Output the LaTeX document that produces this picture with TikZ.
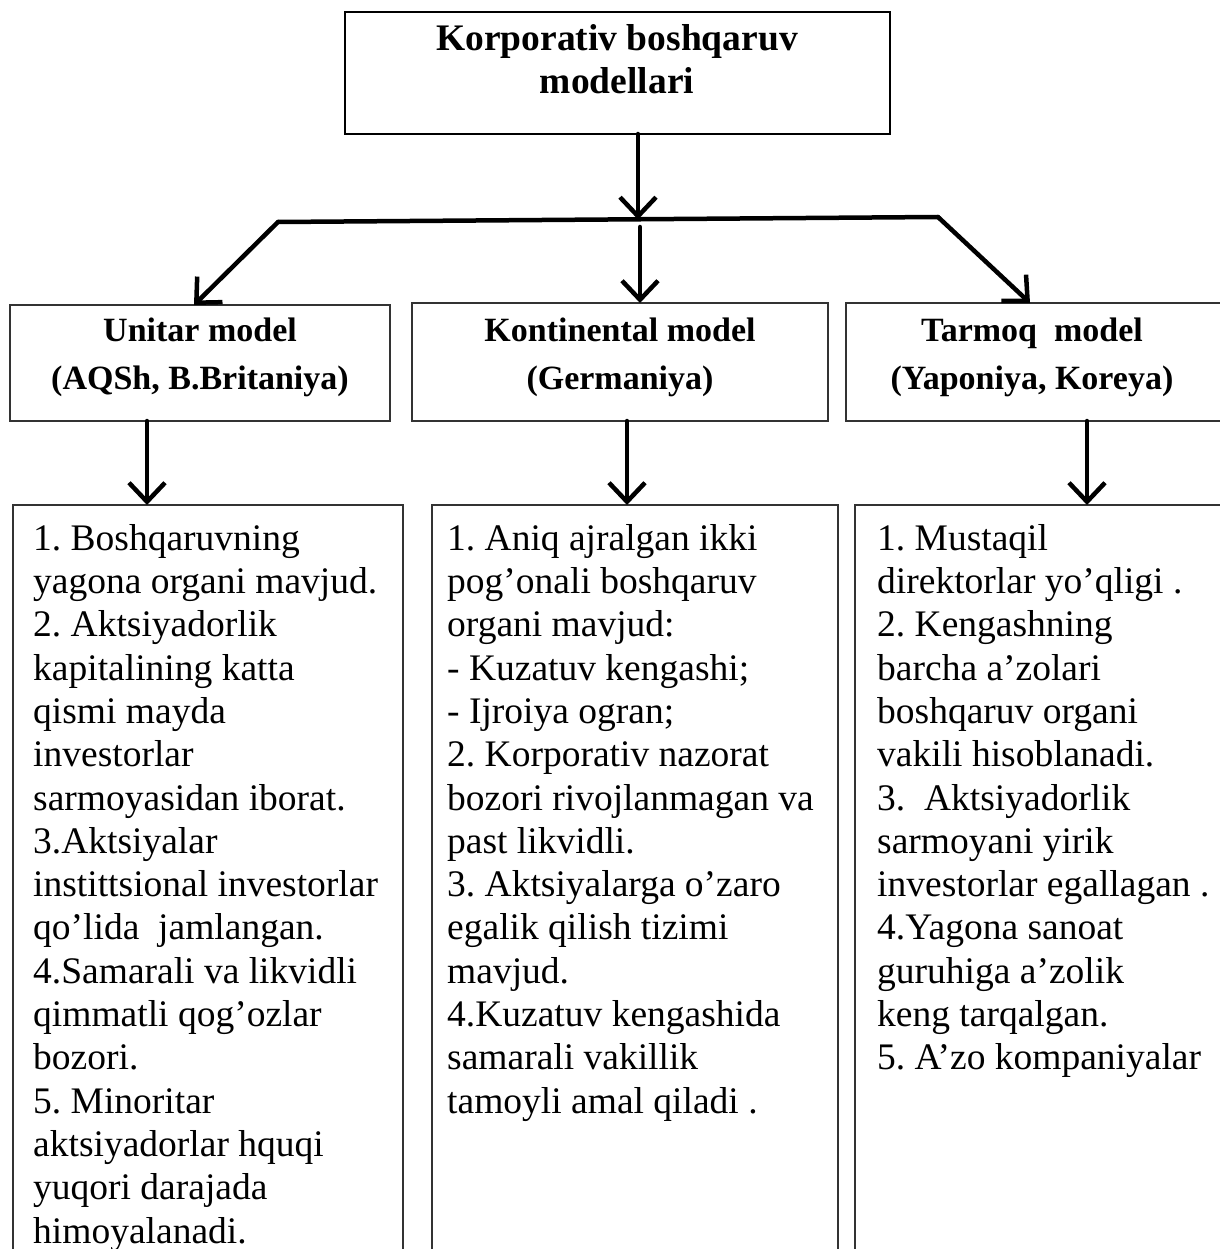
\documentclass[tikz,border=0pt]{standalone}
\usepackage{fontspec}
\setmainfont{Liberation Serif}
\usetikzlibrary{arrows.meta,calc}
\begin{document}
\frenchspacing
\begin{tikzpicture}[x=1pt,y=-1pt,
  frame/.style={draw=black!80, line width=1.3pt, inner sep=0pt, outer sep=0pt, anchor=north west},
  conn/.style={line width=4.5pt, line cap=round, line join=round},
  arr/.style={conn, -{Straight Barb[length=19pt,width=36pt]}},
  ttl/.style={font=\bfseries\fontsize{37.5}{43}\selectfont, align=center, inner sep=0pt, anchor=north},
  hdr/.style={font=\bfseries\fontsize{34}{48}\selectfont, align=center, inner sep=0pt, anchor=north},
  body/.style={font=\fontsize{37.5}{43.3}\selectfont, align=left, inner sep=0pt, anchor=north west}]
\useasboundingbox (0,0) rectangle (1219,1249);
% top box
\node[frame, draw=black, line width=2pt, minimum width=545pt, minimum height=122pt] (top) at (345,12) {};
\node[ttl] (title) at (617,24) {Korporativ boshqaruv\\modellari};
% header boxes
\node[frame, minimum width=380pt, minimum height=116pt] (b1) at (10,305) {};
\node[frame, minimum width=416pt, minimum height=118pt] (b2) at (412,303) {};
\node[frame, minimum width=380pt, minimum height=118pt] (b3) at (846,303) {};
\node[hdr] (h1) at (200,318) {Unitar model\\(AQSh, B.Britaniya)};
\node[hdr] (h2) at (620,318) {Kontinental model\\(Germaniya)};
\node[hdr] (h3) at (1032,318) {Tarmoq\ \ model\\(Yaponiya, Koreya)};
% bottom boxes (open at the bottom)
\node[frame, minimum width=390pt, minimum height=800pt] (ba) at (13,505) {};
\node[frame, minimum width=406pt, minimum height=800pt] (bb) at (432,505) {};
\node[frame, minimum width=400pt, minimum height=800pt] (bc) at (855,505) {};
\node[body] (ta) at (33,524) {1. Boshqaruvning\\yagona organi mavjud.\\2. Aktsiyadorlik\\kapitalining katta\\qismi mayda\\investorlar\\sarmoyasidan iborat.\\3.Aktsiyalar\\instittsional investorlar\\qo’lida\ \ jamlangan.\\4.Samarali va likvidli\\qimmatli qog’ozlar\\bozori.\\5. Minoritar\\aktsiyadorlar hquqi\\yuqori darajada\\himoyalanadi.};
\node[body] (tb) at (447,524) {1. Aniq ajralgan ikki\\pog’onali boshqaruv\\organi mavjud:\\- Kuzatuv kengashi;\\- Ijroiya ogran;\\2. Korporativ nazorat\\bozori rivojlanmagan va\\past likvidli.\\3. Aktsiyalarga o’zaro\\egalik qilish tizimi\\mavjud.\\4.Kuzatuv kengashida\\samarali vakillik\\tamoyli amal qiladi .};
\node[body] (tc) at (877,524) {1. Mustaqil\\direktorlar yo’qligi .\\2. Kengashning\\barcha a’zolari\\boshqaruv organi\\vakili hisoblanadi.\\3.\ \ Aktsiyadorlik\\sarmoyani yirik\\investorlar egallagan .\\4.Yagona sanoat\\guruhiga a’zolik\\keng tarqalgan.\\5. A’zo kompaniyalar};
% connectors
\coordinate (jl) at (278,222);
\coordinate (jr) at (938,217);
\coordinate (jm) at (638,219.5);
\coordinate (m0) at (640,227);
\coordinate (t3) at (1030,0);
\coordinate (d1) at (147,0);
\coordinate (d2) at (627,0);
\coordinate (d3) at (1087,0);
\draw[arr] (top.south -| jm) -- (jm);
\draw[conn] (jl) -- (jr);
\draw[arr] (jl) -- ($(b1.north)+(-6,0)$);
\draw[arr] (jr) -- (t3 |- b3.north);
\draw[arr] (m0) -- (m0 |- b2.north);
\draw[arr] (d1 |- b1.south) -- (d1 |- ba.north);
\draw[arr] (d2 |- b2.south) -- (d2 |- bb.north);
\draw[arr] (d3 |- b3.south) -- (d3 |- bc.north);
\end{tikzpicture}
\end{document}
